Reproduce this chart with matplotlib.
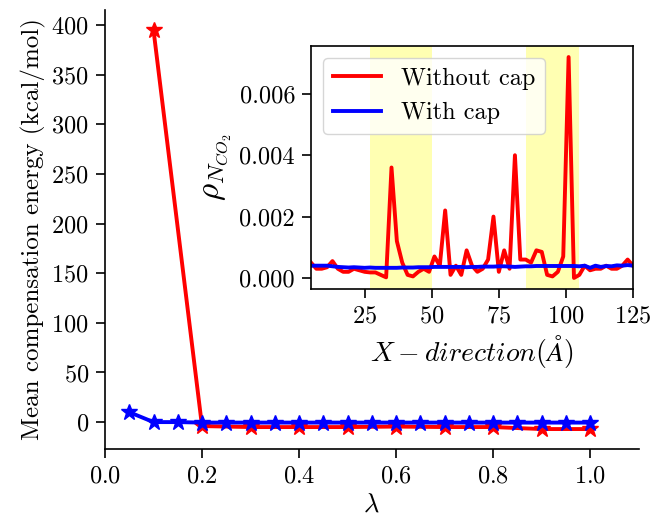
import numpy as np
import matplotlib
matplotlib.use("Agg")
import matplotlib.pyplot as plt

plt.rcParams['font.family'] = 'serif'
plt.rcParams['font.serif'] = ['cmr10']
plt.rcParams['mathtext.fontset'] = 'cm'
plt.rcParams['axes.formatter.use_mathtext'] = True

## main plot data: mean compensation energy vs lambda
lam_nocap = [0.1, 0.2, 0.3, 0.4, 0.5, 0.6, 0.7, 0.8, 0.9, 1.0]
e_nocap = [395, -4, -5, -5, -5, -4.5, -5, -5, -7, -7]

lam_cap = [0.05, 0.1, 0.15, 0.2, 0.25, 0.3, 0.35, 0.4, 0.45, 0.5,
           0.55, 0.6, 0.65, 0.7, 0.75, 0.8, 0.85, 0.9, 0.95, 1.0]
e_cap = [10, 0, 0, -0.5, -0.5, -0.5, -0.5, -0.5, -0.5, -0.5,
         -0.5, -0.5, -0.5, -0.5, -0.5, -0.5, -0.5, -0.5, -0.5, -0.5]

## inset data: CO2 number density along x
x_pos = list(range(5, 127, 2))
rho_nocap = [0.0005, 0.0003, 0.0003, 0.00035, 0.00055, 0.0003, 0.0002, 0.0002, 0.0003, 0.00025,
             0.0002, 0.00018, 0.00018, 0.0001, 0.00002, 0.0036, 0.0012, 0.0005, 0.0001, 0.00005,
             0.0002, 0.0003, 0.0002, 0.0007, 0.0004, 0.0022, 0.0001, 0.0004, 0.0001, 0.0009,
             0.0004, 0.0002, 0.0003, 0.0006, 0.002, 0.0002, 0.0009, 0.0003, 0.004, 0.0006,
             0.0006, 0.0005, 0.0009, 0.00085, 0.0001, 0.00005, 0.0002, 0.0007, 0.0072, 0.0,
             0.0001, 0.0004, 0.00025, 0.0003, 0.0003, 0.0004, 0.0003, 0.0003, 0.0004, 0.0006, 0.0004]
rho_cap = [0.0004, 0.0004, 0.0004, 0.0004, 0.00038, 0.00036, 0.00035, 0.00034, 0.00035, 0.00034,
           0.00033, 0.00034, 0.00033, 0.00033, 0.00033, 0.00033, 0.00033, 0.00034, 0.00034, 0.00034,
           0.00035, 0.00035, 0.00035, 0.00036, 0.00036, 0.00036, 0.00036, 0.00036, 0.00036, 0.00035,
           0.00036, 0.00036, 0.00037, 0.00037, 0.00037, 0.00038, 0.00038, 0.00037, 0.00036, 0.00037,
           0.00038, 0.00038, 0.00039, 0.00039, 0.00039, 0.00039, 0.00039, 0.00039, 0.00039, 0.00039,
           0.00038, 0.00040, 0.00033, 0.00040, 0.00036, 0.00039, 0.00038, 0.00041, 0.00040, 0.00042, 0.00040]

spans = [(27, 50), (85, 105)]

fig = plt.figure(figsize=(6.66, 5.22), dpi=100)
ax = fig.add_axes([105 / 666, 73 / 522, 533.5 / 666, 439 / 522])
ax.plot(lam_nocap, e_nocap, color='red', marker='*', markersize=12, linewidth=2.8)
ax.plot(lam_cap, e_cap, color='blue', marker='*', markersize=12, linewidth=2.8)
ax.set_xlim(0, 1.1)
ax.set_xticks([0.0, 0.2, 0.4, 0.6, 0.8, 1.0])
ax.set_yticks(range(0, 401, 50))
ax.spines['top'].set_visible(False)
ax.spines['right'].set_visible(False)
for s in ax.spines.values():
    s.set_linewidth(1.2)
ax.tick_params(labelsize=17.5, width=1.2, length=6.5, pad=5)
ax.set_xlabel(r'$\lambda$', fontsize=19)
ax.set_ylabel('Mean compensation energy (kcal/mol)', fontsize=18)

## inset
ins = fig.add_axes([311 / 666, 233 / 522, 322 / 666, 243 / 522])
for a, b in spans:
    ins.axvspan(a, b, color='yellow', alpha=0.3, linewidth=0)
ins.plot(x_pos, rho_nocap, color='red', linewidth=2.8, label='Without cap')
ins.plot(x_pos, rho_cap, color='blue', linewidth=2.8, label='With cap')
ins.set_xlim(5, 125)
ins.set_xticks([25, 50, 75, 100, 125])
ins.set_yticks([0.0, 0.002, 0.004, 0.006])
ins.set_yticklabels(['0.000', '0.002', '0.004', '0.006'])
ins.tick_params(labelsize=17.5, width=1.2, length=6.5, pad=5)
for s in ins.spines.values():
    s.set_linewidth(1.2)
ins.set_xlabel(r'$X-direction(\AA)$', fontsize=20)
ins.set_ylabel(r'$\rho_{N_{CO_2}}$', fontsize=24)
ins.legend(loc='upper left', fontsize=17.5)

fig.savefig('out.png')
